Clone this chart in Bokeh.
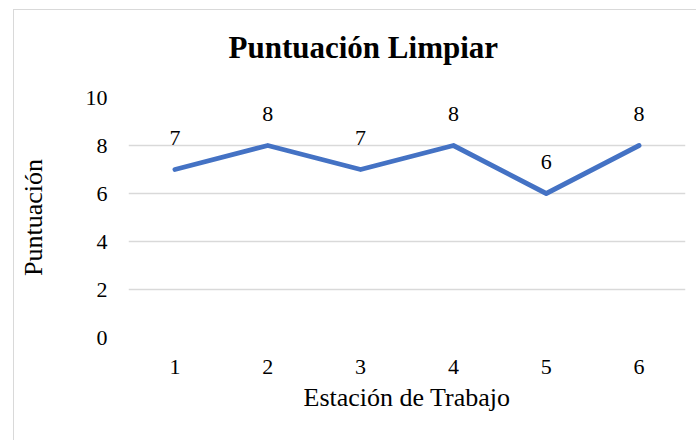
from bokeh.plotting import figure
from bokeh.models import FixedTicker, ColumnDataSource, Title
from bokeh.embed import file_html
from bokeh.resources import INLINE
from bokeh.core.properties import value

# Data
estaciones = [1, 2, 3, 4, 5, 6]
puntuacion = [7, 8, 7, 8, 6, 8]
y_ticks = [0, 2, 4, 6, 8, 10]
titulo = "Puntuación Limpiar"
x_titulo = "Estación de Trabajo"
y_titulo = "Puntuación"

FONT = "Liberation Serif"
BLUE = "#4472C4"
GRID = "#D9D9D9"

src = ColumnDataSource(dict(x=estaciones, y=puntuacion,
                            lbl=[str(v) for v in puntuacion]))

p = figure(width=683, height=431, output_backend="svg", toolbar_location=None,
           x_range=(0.5, 6.5), y_range=(0, 10),
           min_border_left=114, min_border_right=12,
           min_border_top=87, min_border_bottom=104,
           margin=(9, 0, 0, 13))
p.styles = {"border-left": "1px solid #D9D9D9", "border-top": "1px solid #D9D9D9"}
p.outline_line_color = None
p.background_fill_color = "white"
p.border_fill_color = "white"

p.line("x", "y", source=src, line_color=BLUE, line_width=4.8,
       line_cap="round", line_join="round")
p.text("x", "y", text="lbl", source=src, y_offset=-32,
       text_align="center", text_baseline="middle",
       text_font=value(FONT), text_font_size="22px", text_color="black")

p.xgrid.grid_line_color = None
p.ygrid.grid_line_color = GRID
p.ygrid.grid_line_width = 1.5
p.yaxis.ticker = FixedTicker(ticks=y_ticks)
p.xaxis.ticker = FixedTicker(ticks=estaciones)

for ax in (p.xaxis[0], p.yaxis[0]):
    ax.axis_line_color = None
    ax.major_tick_line_color = None
    ax.minor_tick_line_color = None
    ax.major_label_text_font = FONT
    ax.major_label_text_font_size = "22px"
    ax.major_label_text_color = "black"
    ax.axis_label_text_font = FONT
    ax.axis_label_text_font_size = "26px"
    ax.axis_label_text_font_style = "normal"
    ax.axis_label_text_color = "black"

p.xaxis.axis_label = x_titulo
p.xaxis.major_label_standoff = 16
p.xaxis.axis_label_standoff = 6
p.yaxis.axis_label = y_titulo
p.yaxis.major_label_standoff = 15
p.yaxis.axis_label_standoff = 35

# spacer panel between the title and the plot frame
p.add_layout(Title(text=" ", text_font_size="1px", standoff=25), "above")

p.title.text = titulo
p.title.align = "left"
p.title.offset = 100
p.title.standoff = 10
p.title.text_font = FONT
p.title.text_font_size = "31px"
p.title.text_font_style = "bold"
p.title.text_color = "black"

open("out.html", "w").write(file_html(p, INLINE))
